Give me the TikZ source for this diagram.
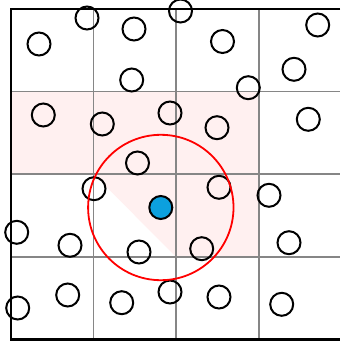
\documentclass[tikz,border=0pt]{standalone}
\begin{document}
\begin{tikzpicture}[x=1pt,y=-1pt,
  agent/.style={circle,draw=black,line width=2pt,minimum size=23pt,inner sep=0pt},
  target/.style={circle,draw=black,fill=tcyan,line width=2pt,minimum size=23pt,inner sep=0pt},
  gridline/.style={draw=gray!95,line width=1.8pt},
  border/.style={draw=black,line width=2.2pt}]
\definecolor{tcyan}{RGB}{12,160,222}
\definecolor{tpink}{RGB}{255,240,240}
\useasboundingbox (0,0) rectangle (340,345);
% shaded cells
\fill[tpink] (11,91.5) rectangle (259,174);
\fill[tpink] (176,174) rectangle (259,257);
\fill[tpink] (93.5,174) -- (176,174) -- (176,257) -- cycle;
% grid
\foreach \x in {93.5,176,259} \draw[gridline] (\x,9) -- (\x,339.5);
\foreach \y in {91.5,174,257} \draw[gridline] (11,\y) -- (340,\y);
% border
\draw[border] (340,9) -- (11,9) -- (11,339.5) -- (340,339.5);
% agents
\node[agent] (c1) at (39,44) {};
\node[agent] (c2) at (87,18) {};
\node[agent] (c3) at (134,29) {};
\node[agent] (c4) at (180.5,11) {};
\node[agent] (c5) at (222.5,41.5) {};
\node[agent] (c6) at (317.7,25) {};
\node[agent] (c7) at (131.7,80) {};
\node[agent] (c8) at (294,69.3) {};
\node[agent] (c9) at (248.3,87.7) {};
\node[agent] (c10) at (43.3,115) {};
\node[agent] (c11) at (102.3,124) {};
\node[agent] (c12) at (170,113) {};
\node[agent] (c13) at (217,127.7) {};
\node[agent] (c14) at (308.3,119.3) {};
\node[agent] (c15) at (137.5,163) {};
\node[agent] (c16) at (94,188.7) {};
\node[agent] (c17) at (219,187.3) {};
\node[agent] (c18) at (269,195.3) {};
\node[agent] (c19) at (16.7,232.3) {};
\node[agent] (c20) at (70,245.3) {};
\node[agent] (c21) at (139,252) {};
\node[agent] (c22) at (201.7,248.7) {};
\node[agent] (c23) at (289,242.7) {};
\node[agent] (c24) at (17.7,308) {};
\node[agent] (c25) at (67.7,295) {};
\node[agent] (c26) at (121.7,302.7) {};
\node[agent] (c27) at (170,292) {};
\node[agent] (c28) at (219,297) {};
\node[agent] (c29) at (281.7,304.3) {};
% target and range
\node[target] (t) at (160.8,207.5) {};
\draw[red,line width=1.8pt] (t.center) circle[radius=72.7];
\end{tikzpicture}
\end{document}
